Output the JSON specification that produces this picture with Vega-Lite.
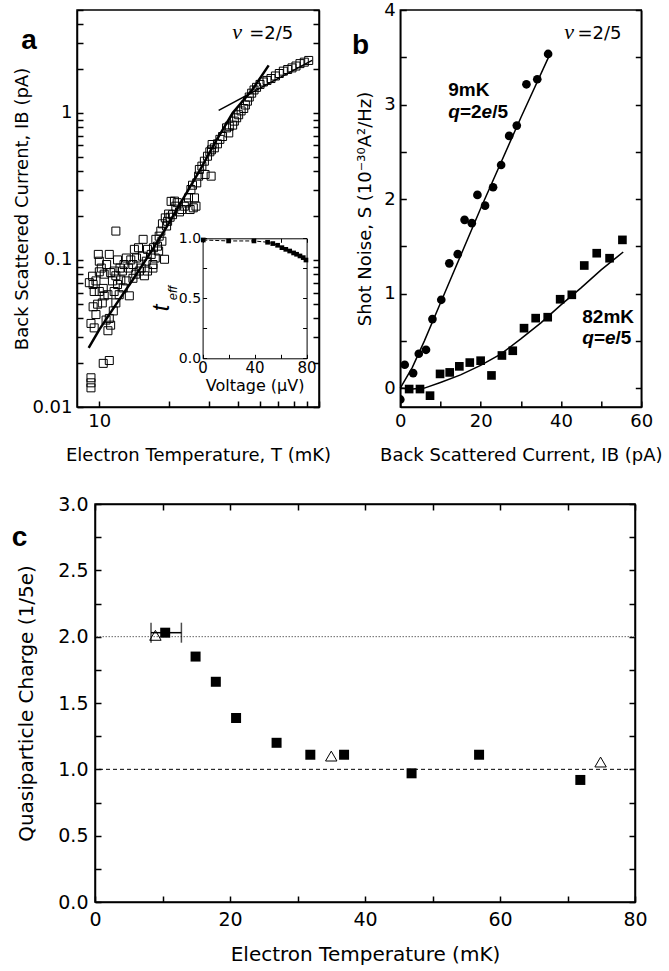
{
 "$schema": "https://vega.github.io/schema/vega-lite/v6.json",
 "background": "white",
 "padding": {"left": 10, "top": 0, "right": 0, "bottom": 0},
 "config": {
  "font": "DejaVu Sans",
  "view": {"stroke": "black", "strokeWidth": 1.5},
  "axis": {"domainColor": "black", "domainWidth": 1.5, "tickColor": "black", "tickWidth": 1.5, "tickSize": -6, "labelPadding": 11, "labelColor": "black", "titleColor": "black", "grid": false, "labelFont": "DejaVu Sans", "titleFont": "DejaVu Sans", "titleFontWeight": "normal", "labelFontSize": 18, "titleFontSize": 18, "labelOverlap": false, "labelFlush": false, "labelBound": false, "titlePadding": 10},
  "text": {"color": "black"}
 },
 "datasets": {
  "a_scatter": [
   {"T":81.2,"IB":2.27},{"T":77.7,"IB":2.21},{"T":74.4,"IB":2.16},{"T":71.5,"IB":2.08},{"T":68.7,"IB":2.02},{"T":65.8,"IB":1.97},{"T":63.0,"IB":1.92},{"T":60.5,"IB":1.85},{"T":58.2,"IB":1.78},{"T":55.7,"IB":1.71},{"T":53.5,"IB":1.66},{"T":51.6,"IB":1.62},{"T":49.9,"IB":1.56},{"T":48.2,"IB":1.49},{"T":47.0,"IB":1.43},{"T":45.9,"IB":1.36},{"T":44.8,"IB":1.28},{"T":44.0,"IB":1.20},{"T":43.1,"IB":1.13},{"T":42.4,"IB":1.07},{"T":41.3,"IB":1.03},{"T":40.3,"IB":0.97},{"T":39.5,"IB":0.925},{"T":38.6,"IB":0.878},{"T":37.95,"IB":0.825},{"T":36.7,"IB":0.81},{"T":35.7,"IB":0.79},{"T":36.5,"IB":0.73},{"T":34.3,"IB":0.69},{"T":33.4,"IB":0.66},{"T":32.6,"IB":0.615},{"T":31.6,"IB":0.578},{"T":30.9,"IB":0.609},{"T":30.2,"IB":0.543},{"T":29.5,"IB":0.507},{"T":28.6,"IB":0.469},{"T":27.9,"IB":0.434},{"T":27.2,"IB":0.412},{"T":30.6,"IB":0.371},{"T":28.8,"IB":0.381},{"T":27.0,"IB":0.371},{"T":26.5,"IB":0.334},{"T":25.4,"IB":0.322},{"T":25.0,"IB":0.301},{"T":25.9,"IB":0.264},{"T":24.4,"IB":0.264},{"T":23.9,"IB":0.244},{"T":23.4,"IB":0.232},{"T":22.8,"IB":0.220},{"T":22.3,"IB":0.212},{"T":21.5,"IB":0.232},{"T":21.2,"IB":0.251},{"T":20.8,"IB":0.203},{"T":20.3,"IB":0.195},{"T":19.8,"IB":0.183},{"T":19.35,"IB":0.193},{"T":18.8,"IB":0.176},{"T":18.5,"IB":0.157},{"T":18.2,"IB":0.145},{"T":18.7,"IB":0.134},{"T":17.9,"IB":0.124},{"T":18.1,"IB":0.115},{"T":19.2,"IB":0.101},{"T":17.6,"IB":0.138},{"T":17.2,"IB":0.121},{"T":16.8,"IB":0.109},{"T":16.2,"IB":0.118},{"T":17.1,"IB":0.093},{"T":16.0,"IB":0.098},{"T":15.5,"IB":0.138},{"T":15.4,"IB":0.106},{"T":15.2,"IB":0.088},{"T":14.8,"IB":0.121},{"T":14.5,"IB":0.103},{"T":14.2,"IB":0.118},{"T":14.0,"IB":0.093},{"T":13.7,"IB":0.100},{"T":13.4,"IB":0.088},{"T":13.1,"IB":0.103},{"T":12.8,"IB":0.093},{"T":12.6,"IB":0.084},{"T":12.3,"IB":0.088},{"T":12.0,"IB":0.100},{"T":11.8,"IB":0.157},{"T":11.6,"IB":0.084},{"T":11.4,"IB":0.072},{"T":11.05,"IB":0.109},{"T":10.76,"IB":0.093},{"T":10.5,"IB":0.080},{"T":10.2,"IB":0.088},{"T":9.9,"IB":0.109},{"T":10.0,"IB":0.098},{"T":9.67,"IB":0.072},{"T":9.4,"IB":0.068},{"T":9.05,"IB":0.070},{"T":9.5,"IB":0.061},{"T":10.0,"IB":0.061},{"T":10.4,"IB":0.064},{"T":10.9,"IB":0.058},{"T":9.83,"IB":0.050},{"T":9.4,"IB":0.048},{"T":9.67,"IB":0.0425},{"T":9.2,"IB":0.037},{"T":9.5,"IB":0.0345},{"T":10.7,"IB":0.039},{"T":10.9,"IB":0.033},{"T":11.2,"IB":0.036},{"T":11.5,"IB":0.045},{"T":11.8,"IB":0.051},{"T":12.2,"IB":0.058},{"T":12.7,"IB":0.0645},{"T":13.1,"IB":0.072},{"T":13.5,"IB":0.057},{"T":12.4,"IB":0.073},{"T":12.0,"IB":0.068},{"T":14.0,"IB":0.075},{"T":14.4,"IB":0.080},{"T":14.9,"IB":0.084},{"T":15.7,"IB":0.078},{"T":16.2,"IB":0.084},{"T":17.1,"IB":0.088},{"T":17.5,"IB":0.103},{"T":10.4,"IB":0.0198},{"T":11.05,"IB":0.0207},{"T":9.2,"IB":0.0158},{"T":9.2,"IB":0.0146},{"T":9.2,"IB":0.0135},{"T":10.0,"IB":0.083},{"T":10.5,"IB":0.057},{"T":10.3,"IB":0.051},{"T":11.2,"IB":0.082},{"T":11.8,"IB":0.078},{"T":9.35,"IB":0.0775},{"T":11.05,"IB":0.040},{"T":11.6,"IB":0.061},{"T":26.3,"IB":0.232},{"T":24.8,"IB":0.22},{"T":25.6,"IB":0.226},{"T":20.5,"IB":0.25},{"T":21.8,"IB":0.245},{"T":19.6,"IB":0.17},{"T":20.0,"IB":0.205},{"T":30.7,"IB":0.56}
  ],
  "a_fit_steep": [
   {"T":8.99,"IB":0.0252},{"T":10,"IB":0.0336},{"T":11.8,"IB":0.0497},{"T":14,"IB":0.0735},{"T":16.5,"IB":0.109},{"T":19.5,"IB":0.165},{"T":23,"IB":0.257},{"T":27.2,"IB":0.401},{"T":32.1,"IB":0.642},{"T":38,"IB":1.0},{"T":46.3,"IB":1.44},{"T":54.4,"IB":2.10}
  ],
  "a_fit_flat": [{"T":33.0,"IB":1.04},{"T":84.0,"IB":2.27}],
  "inset": [
   {"V":0.5,"t":0.986},{"V":20,"t":0.978},{"V":39.5,"t":0.978},{"V":50,"t":0.967},{"V":54,"t":0.956},{"V":57.7,"t":0.942},{"V":61,"t":0.922},{"V":64,"t":0.908},{"V":67,"t":0.894},{"V":70,"t":0.878},{"V":72.3,"t":0.867},{"V":74.9,"t":0.853},{"V":77.4,"t":0.839},{"V":79.5,"t":0.819}
  ],
  "b_9mK": [
   {"I":0,"S":-0.12},{"I":1.1,"S":0.247},{"I":3.2,"S":0.159},{"I":4.6,"S":0.363},{"I":6.4,"S":0.405},{"I":8.0,"S":0.73},{"I":10.2,"S":0.934},{"I":12.2,"S":1.32},{"I":14.3,"S":1.417},{"I":16.0,"S":1.78},{"I":17.8,"S":1.745},{"I":19.2,"S":2.044},{"I":21.1,"S":1.93},{"I":23.1,"S":2.125},{"I":25.1,"S":2.36},{"I":27.1,"S":2.668},{"I":29.0,"S":2.777},{"I":31.4,"S":3.214},{"I":34.1,"S":3.267},{"I":36.8,"S":3.535}
  ],
  "b_82mK": [
   {"I":2.2,"S":-0.01},{"I":4.9,"S":-0.01},{"I":7.4,"S":-0.08},{"I":9.9,"S":0.15},{"I":12.3,"S":0.166},{"I":14.7,"S":0.23},{"I":17.3,"S":0.27},{"I":20.0,"S":0.29},{"I":22.7,"S":0.134},{"I":25.3,"S":0.345},{"I":28.0,"S":0.395},{"I":30.8,"S":0.634},{"I":33.7,"S":0.74},{"I":36.7,"S":0.75},{"I":39.8,"S":0.94},{"I":42.7,"S":0.987},{"I":45.8,"S":1.297},{"I":48.9,"S":1.427},{"I":52.1,"S":1.374},{"I":55.3,"S":1.568}
  ],
  "b_fit9": [
   {"I":0,"S":0},{"I":3,"S":0.22},{"I":6,"S":0.5},{"I":10,"S":0.9},{"I":20,"S":1.9},{"I":30,"S":2.86},{"I":37,"S":3.51}
  ],
  "b_fit82": [
   {"I":0,"S":0},{"I":3,"S":-0.01},{"I":6,"S":0.0},{"I":10,"S":0.06},{"I":15,"S":0.14},{"I":20,"S":0.24},{"I":25,"S":0.36},{"I":30,"S":0.52},{"I":35,"S":0.69},{"I":40,"S":0.88},{"I":45,"S":1.06},{"I":50,"S":1.25},{"I":55.5,"S":1.44}
  ],
  "c_sq": [
   {"T":10.4,"q":2.03},{"T":14.9,"q":1.85},{"T":17.9,"q":1.66},{"T":20.9,"q":1.387},{"T":26.9,"q":1.20},{"T":31.9,"q":1.11},{"T":36.9,"q":1.11},{"T":46.9,"q":0.97},{"T":56.9,"q":1.11},{"T":71.9,"q":0.92}
  ],
  "c_tri": [{"T":8.95,"q":2.01},{"T":35.0,"q":1.10},{"T":74.9,"q":1.055}],
  "c_err": [{"lo":8.3,"hi":12.8,"q":2.03}]
 },
 "spacing": 29,
 "vconcat": [
  {
   "bounds": "flush",
   "spacing": 81.3,
   "hconcat": [
    {
     "width": 242, "height": 397,
     "resolve": {"scale": {"x": "independent", "y": "independent"}, "axis": {"x": "independent", "y": "independent"}},
     "layer": [
      {
       "resolve": {"axis": {"x": "independent", "y": "independent"}},
       "layer": [
        {
         "data": {"name": "a_scatter"},
         "mark": {"type": "square", "filled": false, "stroke": "black", "strokeWidth": 1, "size": 64, "opacity": 1},
         "encoding": {
          "x": {"field": "T", "type": "quantitative", "scale": {"type": "log", "domain": [8, 90], "nice": false}, "axis": {"orient": "bottom", "values": [10,20,30,40,50,60,70,80,90], "labelExpr": "datum.value == 10 ? '10' : ''", "title": "Electron Temperature, T (mK)", "titlePadding": 16}},
          "y": {"field": "IB", "type": "quantitative", "scale": {"type": "log", "domain": [0.01, 5], "nice": false}, "axis": {"orient": "left", "values": [0.01,0.02,0.03,0.04,0.05,0.06,0.07,0.08,0.09,0.1,0.2,0.3,0.4,0.5,0.6,0.7,0.8,0.9,1,2,3,4,5], "labelExpr": "datum.value == 0.01 ? '0.01' : datum.value == 0.1 ? '0.1' : datum.value == 1 ? '1' : ''", "title": "Back Scattered Current, IB (pA)", "titlePadding": 0}}
         }
        },
        {
         "data": {"name": "a_fit_steep"},
         "mark": {"type": "line", "color": "black", "strokeWidth": 2.5},
         "encoding": {
          "x": {"field": "T", "type": "quantitative", "scale": {"type": "log", "domain": [8, 90], "nice": false}, "axis": null},
          "y": {"field": "IB", "type": "quantitative", "scale": {"type": "log", "domain": [0.01, 5], "nice": false}, "axis": {"orient": "right", "values": [0.01,0.02,0.03,0.04,0.05,0.06,0.07,0.08,0.09,0.1,0.2,0.3,0.4,0.5,0.6,0.7,0.8,0.9,1,2,3,4,5], "labels": false, "title": null}}
         }
        },
        {
         "data": {"name": "a_fit_flat"},
         "mark": {"type": "line", "color": "black", "strokeWidth": 1.5},
         "encoding": {
          "x": {"field": "T", "type": "quantitative", "scale": {"type": "log", "domain": [8, 90], "nice": false}, "axis": null},
          "y": {"field": "IB", "type": "quantitative", "scale": {"type": "log", "domain": [0.01, 5], "nice": false}, "axis": null}
         }
        },
        {
         "data": {"values": [{}]},
         "mark": {"type": "text", "text": "a", "font": "Liberation Sans", "fontSize": 28, "fontWeight": "bold", "align": "left", "baseline": "alphabetic"},
         "encoding": {
          "x": {"datum": 4.58, "type": "quantitative", "scale": {"type": "log", "domain": [8, 90], "nice": false}, "axis": null},
          "y": {"datum": 2.716, "type": "quantitative", "scale": {"type": "log", "domain": [0.01, 5], "nice": false}, "axis": null}
         }
        },
        {
         "data": {"values": [{}]},
         "mark": {"type": "text", "text": "ν", "font": "Liberation Serif", "fontStyle": "italic", "fontSize": 22, "align": "left", "baseline": "alphabetic"},
         "encoding": {
          "x": {"datum": 37.8, "type": "quantitative", "scale": {"type": "log", "domain": [8, 90], "nice": false}, "axis": null},
          "y": {"datum": 3.16, "type": "quantitative", "scale": {"type": "log", "domain": [0.01, 5], "nice": false}, "axis": null}
         }
        },
        {
         "data": {"values": [{}]},
         "mark": {"type": "text", "text": "=2/5", "font": "DejaVu Sans", "fontSize": 18, "align": "left", "baseline": "alphabetic"},
         "encoding": {
          "x": {"datum": 44.8, "type": "quantitative", "scale": {"type": "log", "domain": [8, 90], "nice": false}, "axis": null},
          "y": {"datum": 3.16, "type": "quantitative", "scale": {"type": "log", "domain": [0.01, 5], "nice": false}, "axis": null}
         }
        }
       ]
      },
      {
       "resolve": {"axis": {"x": "independent", "y": "independent"}},
       "layer": [
        {
         "data": {"name": "inset"},
         "mark": {"type": "line", "color": "black", "strokeWidth": 1, "strokeDash": [4, 2]},
         "encoding": {
          "x": {"field": "V", "type": "quantitative", "scale": {"domain": [0, 80], "range": [125.6, 229.6], "nice": false, "zero": false}, "axis": {"orient": "bottom", "offset": -48.7, "values": [0,20,40,60,80], "labelExpr": "datum.value % 40 == 0 ? datum.label : ''", "title": "Voltage (μV)", "labelFontSize": 15, "titleFontSize": 16, "tickSize": -4, "labelPadding": 6, "titlePadding": 2, "domainWidth": 1, "tickWidth": 1}},
          "y": {"field": "t", "type": "quantitative", "scale": {"domain": [0, 1], "range": [348.3, 228.3], "nice": false, "zero": false}, "axis": {"orient": "left", "offset": -125.6, "values": [0,0.25,0.5,0.75,1], "labelExpr": "datum.value % 0.5 == 0 ? format(datum.value, '.1f') : ''", "title": null, "labelFontSize": 14, "tickSize": -4, "labelPadding": 6, "domainWidth": 1, "tickWidth": 1}}
         }
        },
        {
         "data": {"name": "inset"},
         "mark": {"type": "square", "filled": true, "color": "black", "size": 22, "opacity": 1},
         "encoding": {
          "x": {"field": "V", "type": "quantitative", "scale": {"domain": [0, 80], "range": [125.6, 229.6], "nice": false, "zero": false}, "axis": {"orient": "top", "offset": -228.3, "values": [0,20,40,60,80], "labels": false, "title": null, "tickSize": -4, "domainWidth": 1, "tickWidth": 1}},
          "y": {"field": "t", "type": "quantitative", "scale": {"domain": [0, 1], "range": [348.3, 228.3], "nice": false, "zero": false}, "axis": {"orient": "right", "offset": -12.4, "values": [0,0.25,0.5,0.75,1], "labels": false, "title": null, "tickSize": -4, "domainWidth": 1, "tickWidth": 1}}
         }
        },
        {
         "data": {"values": [{}]},
         "mark": {"type": "text", "text": "t", "font": "Liberation Sans", "fontStyle": "italic", "fontSize": 24, "angle": 270, "align": "center", "baseline": "middle"},
         "encoding": {
          "x": {"datum": -31, "type": "quantitative", "scale": {"domain": [0, 80], "range": [125.6, 229.6], "nice": false, "zero": false}, "axis": null},
          "y": {"datum": 0.419, "type": "quantitative", "scale": {"domain": [0, 1], "range": [348.3, 228.3], "nice": false, "zero": false}, "axis": null}
         }
        },
        {
         "data": {"values": [{}]},
         "mark": {"type": "text", "text": "eff", "font": "Liberation Sans", "fontStyle": "italic", "fontSize": 13, "angle": 270, "align": "center", "baseline": "middle"},
         "encoding": {
          "x": {"datum": -22.5, "type": "quantitative", "scale": {"domain": [0, 80], "range": [125.6, 229.6], "nice": false, "zero": false}, "axis": null},
          "y": {"datum": 0.544, "type": "quantitative", "scale": {"domain": [0, 1], "range": [348.3, 228.3], "nice": false, "zero": false}, "axis": null}
         }
        }
       ]
      }
     ]
    },
    {
     "width": 241, "height": 397,
     "resolve": {"axis": {"x": "independent", "y": "independent"}},
     "layer": [
      {
       "data": {"name": "b_9mK"},
       "mark": {"type": "circle", "color": "black", "size": 75, "opacity": 1, "clip": true},
       "encoding": {
        "x": {"field": "I", "type": "quantitative", "scale": {"domain": [0, 60], "nice": false, "zero": false}, "axis": {"orient": "bottom", "values": [0,10,20,30,40,50,60], "labelExpr": "datum.value % 20 == 0 ? datum.label : ''", "title": "Back Scattered Current, IB (pA)", "titlePadding": 16}},
        "y": {"field": "S", "type": "quantitative", "scale": {"domain": [-0.2, 4], "nice": false, "zero": false}, "axis": {"orient": "left", "values": [0,0.5,1,1.5,2,2.5,3,3.5,4], "labelExpr": "datum.value % 1 == 0 ? format(datum.value, 'd') : ''", "title": "Shot Noise, S (10⁻³⁰A²/Hz)", "titlePadding": 9}}
       }
      },
      {
       "data": {"name": "b_82mK"},
       "mark": {"type": "square", "color": "black", "size": 75, "opacity": 1},
       "encoding": {
        "x": {"field": "I", "type": "quantitative", "scale": {"domain": [0, 60], "nice": false, "zero": false}, "axis": null},
        "y": {"field": "S", "type": "quantitative", "scale": {"domain": [-0.2, 4], "nice": false, "zero": false}, "axis": null}
       }
      },
      {
       "data": {"name": "b_fit9"},
       "mark": {"type": "line", "color": "black", "strokeWidth": 1.5},
       "encoding": {
        "x": {"field": "I", "type": "quantitative", "scale": {"domain": [0, 60], "nice": false, "zero": false}, "axis": null},
        "y": {"field": "S", "type": "quantitative", "scale": {"domain": [-0.2, 4], "nice": false, "zero": false}, "axis": {"orient": "right", "values": [0,0.5,1,1.5,2,2.5,3,3.5,4], "labels": false, "title": null}}
       }
      },
      {
       "data": {"name": "b_fit82"},
       "mark": {"type": "line", "color": "black", "strokeWidth": 1.5},
       "encoding": {
        "x": {"field": "I", "type": "quantitative", "scale": {"domain": [0, 60], "nice": false, "zero": false}, "axis": null},
        "y": {"field": "S", "type": "quantitative", "scale": {"domain": [-0.2, 4], "nice": false, "zero": false}, "axis": null}
       }
      },
      {
       "data": {"values": [{}]},
       "mark": {"type": "text", "text": "b", "font": "Liberation Sans", "fontSize": 28, "fontWeight": "bold", "align": "left", "baseline": "alphabetic"},
       "encoding": {"x": {"datum": -12.0, "type": "quantitative", "axis": null}, "y": {"datum": 3.534, "type": "quantitative", "axis": null}}
      },
      {
       "data": {"values": [{}]},
       "mark": {"type": "text", "text": "ν", "font": "Liberation Serif", "fontStyle": "italic", "fontSize": 22, "align": "left", "baseline": "alphabetic"},
       "encoding": {"x": {"datum": 40.8, "type": "quantitative", "axis": null}, "y": {"datum": 3.69, "type": "quantitative", "axis": null}}
      },
      {
       "data": {"values": [{}]},
       "mark": {"type": "text", "text": "=2/5", "font": "DejaVu Sans", "fontSize": 18, "align": "left", "baseline": "alphabetic"},
       "encoding": {"x": {"datum": 44.1, "type": "quantitative", "axis": null}, "y": {"datum": 3.69, "type": "quantitative", "axis": null}}
      },
      {
       "data": {"values": [{}]},
       "mark": {"type": "text", "text": "9mK", "font": "Liberation Sans", "fontSize": 19, "fontWeight": "bold", "align": "left", "baseline": "alphabetic"},
       "encoding": {"x": {"datum": 11.95, "type": "quantitative", "axis": null}, "y": {"datum": 3.09, "type": "quantitative", "axis": null}}
      },
      {
       "data": {"values": [{}]},
       "mark": {"type": "text", "text": "q", "font": "Liberation Sans", "fontSize": 19, "fontWeight": "bold", "fontStyle": "italic", "align": "left", "baseline": "alphabetic"},
       "encoding": {"x": {"datum": 11.95, "type": "quantitative", "axis": null}, "y": {"datum": 2.861, "type": "quantitative", "axis": null}}
      },
      {
       "data": {"values": [{}]},
       "mark": {"type": "text", "text": "=2", "font": "Liberation Sans", "fontSize": 19, "fontWeight": "bold", "align": "left", "baseline": "alphabetic"},
       "encoding": {"x": {"datum": 14.84, "type": "quantitative", "axis": null}, "y": {"datum": 2.861, "type": "quantitative", "axis": null}}
      },
      {
       "data": {"values": [{}]},
       "mark": {"type": "text", "text": "e", "font": "Liberation Sans", "fontSize": 19, "fontWeight": "bold", "fontStyle": "italic", "align": "left", "baseline": "alphabetic"},
       "encoding": {"x": {"datum": 20.24, "type": "quantitative", "axis": null}, "y": {"datum": 2.861, "type": "quantitative", "axis": null}}
      },
      {
       "data": {"values": [{}]},
       "mark": {"type": "text", "text": "/5", "font": "Liberation Sans", "fontSize": 19, "fontWeight": "bold", "align": "left", "baseline": "alphabetic"},
       "encoding": {"x": {"datum": 22.88, "type": "quantitative", "axis": null}, "y": {"datum": 2.861, "type": "quantitative", "axis": null}}
      },
      {
       "data": {"values": [{}]},
       "mark": {"type": "text", "text": "82mK", "font": "Liberation Sans", "fontSize": 19, "fontWeight": "bold", "align": "left", "baseline": "alphabetic"},
       "encoding": {"x": {"datum": 45.3, "type": "quantitative", "axis": null}, "y": {"datum": 0.692, "type": "quantitative", "axis": null}}
      },
      {
       "data": {"values": [{}]},
       "mark": {"type": "text", "text": "q", "font": "Liberation Sans", "fontSize": 19, "fontWeight": "bold", "fontStyle": "italic", "align": "left", "baseline": "alphabetic"},
       "encoding": {"x": {"datum": 45.3, "type": "quantitative", "axis": null}, "y": {"datum": 0.463, "type": "quantitative", "axis": null}}
      },
      {
       "data": {"values": [{}]},
       "mark": {"type": "text", "text": "=", "font": "Liberation Sans", "fontSize": 19, "fontWeight": "bold", "align": "left", "baseline": "alphabetic"},
       "encoding": {"x": {"datum": 48.2, "type": "quantitative", "axis": null}, "y": {"datum": 0.463, "type": "quantitative", "axis": null}}
      },
      {
       "data": {"values": [{}]},
       "mark": {"type": "text", "text": "e", "font": "Liberation Sans", "fontSize": 19, "fontWeight": "bold", "fontStyle": "italic", "align": "left", "baseline": "alphabetic"},
       "encoding": {"x": {"datum": 50.96, "type": "quantitative", "axis": null}, "y": {"datum": 0.463, "type": "quantitative", "axis": null}}
      },
      {
       "data": {"values": [{}]},
       "mark": {"type": "text", "text": "/5", "font": "Liberation Sans", "fontSize": 19, "fontWeight": "bold", "align": "left", "baseline": "alphabetic"},
       "encoding": {"x": {"datum": 53.6, "type": "quantitative", "axis": null}, "y": {"datum": 0.463, "type": "quantitative", "axis": null}}
      }
     ]
    }
   ]
  },
  {
   "bounds": "flush",
   "spacing": 0,
   "hconcat": [
    {
     "width": 17.6, "height": 398,
     "view": {"stroke": null, "fill": null},
     "data": {"values": []},
     "mark": "point"
    },
    {
     "width": 540, "height": 398,
     "resolve": {"axis": {"x": "independent", "y": "independent"}},
     "layer": [
      {
       "data": {"values": [{}]},
       "mark": {"type": "rule", "color": "#666666", "strokeWidth": 1, "strokeDash": [1.5, 1.5]},
       "encoding": {"y": {"datum": 2, "type": "quantitative", "scale": {"domain": [0, 3], "nice": false, "zero": false}, "axis": null}}
      },
      {
       "data": {"values": [{}]},
       "mark": {"type": "rule", "color": "black", "strokeWidth": 1, "strokeDash": [4, 3]},
       "encoding": {"y": {"datum": 1, "type": "quantitative", "scale": {"domain": [0, 3], "nice": false, "zero": false}, "axis": null}}
      },
      {
       "data": {"name": "c_err"},
       "mark": {"type": "errorbar", "ticks": {"size": 20, "thickness": 1.5, "color": "black"}, "rule": {"strokeWidth": 1.5, "color": "black"}},
       "encoding": {
        "x": {"field": "lo", "type": "quantitative", "scale": {"domain": [0, 80], "nice": false, "zero": false}, "axis": null},
        "x2": {"field": "hi"},
        "y": {"field": "q", "type": "quantitative", "scale": {"domain": [0, 3], "nice": false, "zero": false}, "axis": null}
       }
      },
      {
       "data": {"name": "c_sq"},
       "mark": {"type": "square", "color": "black", "size": 100, "opacity": 1},
       "encoding": {
        "x": {"field": "T", "type": "quantitative", "scale": {"domain": [0, 80], "nice": false, "zero": false}, "axis": {"orient": "bottom", "values": [0,10,20,30,40,50,60,70,80], "labelExpr": "datum.value % 20 == 0 ? datum.label : ''", "title": "Electron Temperature (mK)", "labelFontSize": 19, "titleFontSize": 20, "labelPadding": 14, "titlePadding": 15}},
        "y": {"field": "q", "type": "quantitative", "scale": {"domain": [0, 3], "nice": false, "zero": false}, "axis": {"orient": "left", "values": [0,0.25,0.5,0.75,1,1.25,1.5,1.75,2,2.25,2.5,2.75,3], "labelExpr": "datum.value % 0.5 == 0 ? format(datum.value, '.1f') : ''", "title": "Quasiparticle Charge (1/5e)", "labelFontSize": 19, "titleFontSize": 20, "labelPadding": 13, "titlePadding": 21}}
       }
      },
      {
       "data": {"name": "c_tri"},
       "mark": {"type": "point", "shape": "triangle-up", "filled": false, "stroke": "black", "strokeWidth": 1, "size": 130, "opacity": 1},
       "encoding": {
        "x": {"field": "T", "type": "quantitative", "scale": {"domain": [0, 80], "nice": false, "zero": false}, "axis": {"orient": "top", "values": [0,10,20,30,40,50,60,70,80], "labels": false, "title": null}},
        "y": {"field": "q", "type": "quantitative", "scale": {"domain": [0, 3], "nice": false, "zero": false}, "axis": {"orient": "right", "values": [0,0.25,0.5,0.75,1,1.25,1.5,1.75,2,2.25,2.5,2.75,3], "labels": false, "title": null}}
       }
      },
      {
       "data": {"values": [{}]},
       "mark": {"type": "text", "text": "c", "font": "Liberation Sans", "fontSize": 28, "fontWeight": "bold", "align": "left", "baseline": "alphabetic"},
       "encoding": {
        "x": {"datum": -12.34, "type": "quantitative", "scale": {"domain": [0, 80], "nice": false, "zero": false}, "axis": null},
        "y": {"datum": 2.683, "type": "quantitative", "scale": {"domain": [0, 3], "nice": false, "zero": false}, "axis": null}
       }
      }
     ]
    }
   ]
  }
 ]
}
